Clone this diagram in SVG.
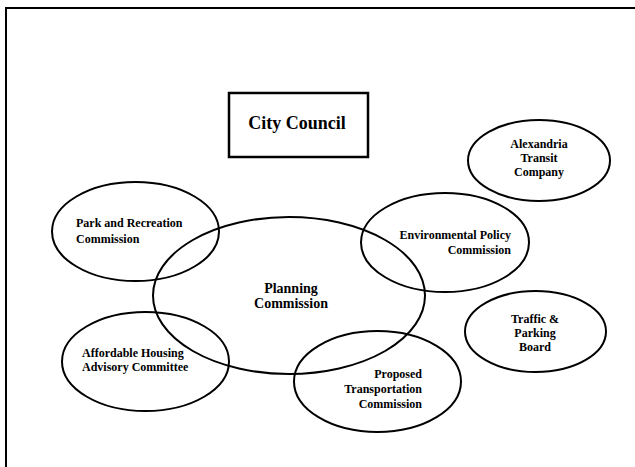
<svg xmlns="http://www.w3.org/2000/svg" width="635" height="467" viewBox="0 0 635 467">
<style>
.bg{fill:#fff}
.frame{fill:none;stroke:#000;stroke-width:2}
.node{fill:none;stroke:#000;stroke-width:2}
.box{fill:none;stroke:#000;stroke-width:2.5}
text{font-family:"Liberation Serif","Times New Roman",serif;font-weight:bold;fill:#000}
.s{font-size:12px}
.m{font-size:14px}
.l{font-size:18px}
</style>
<rect class="bg" x="0" y="0" width="635" height="467"/>
<g id="frame">
<path class="frame" d="M6,467 V8 H635"/>
</g>
<g id="connectors"></g>
<g id="city-council">
<rect class="box" x="229" y="93" width="139" height="64"/>
<text class="l" x="297" y="129" text-anchor="middle">City Council</text>
</g>
<g id="planning-commission">
<ellipse class="node" cx="289" cy="295.5" rx="136" ry="78.5"/>
<text class="m" x="291" y="293" text-anchor="middle">Planning</text>
<text class="m" x="291" y="308" text-anchor="middle">Commission</text>
</g>
<g id="park-recreation">
<ellipse class="node" cx="135.5" cy="231.5" rx="83.5" ry="49.5"/>
<text class="s" x="76" y="227">Park and Recreation</text>
<text class="s" x="76" y="243">Commission</text>
</g>
<g id="environmental-policy">
<ellipse class="node" cx="445" cy="242.5" rx="84" ry="49.5"/>
<text class="s" x="511" y="239" text-anchor="end">Environmental Policy</text>
<text class="s" x="511" y="254" text-anchor="end">Commission</text>
</g>
<g id="alexandria-transit">
<ellipse class="node" cx="539" cy="160.5" rx="71" ry="40.5"/>
<text class="s" x="539" y="148" text-anchor="middle">Alexandria</text>
<text class="s" x="539" y="162" text-anchor="middle">Transit</text>
<text class="s" x="539" y="176" text-anchor="middle">Company</text>
</g>
<g id="traffic-parking">
<ellipse class="node" cx="535.5" cy="331.5" rx="70.5" ry="40.5"/>
<text class="s" x="535" y="323" text-anchor="middle">Traffic &amp;</text>
<text class="s" x="535" y="337" text-anchor="middle">Parking</text>
<text class="s" x="535" y="351" text-anchor="middle">Board</text>
</g>
<g id="affordable-housing">
<ellipse class="node" cx="145.5" cy="361.5" rx="83.5" ry="49.5"/>
<text class="s" x="82" y="357">Affordable Housing</text>
<text class="s" x="82" y="371">Advisory Committee</text>
</g>
<g id="proposed-transportation">
<ellipse class="node" cx="377.5" cy="381.5" rx="83.5" ry="50.5"/>
<text class="s" x="422" y="378" text-anchor="end">Proposed</text>
<text class="s" x="422" y="393" text-anchor="end">Transportation</text>
<text class="s" x="422" y="408" text-anchor="end">Commission</text>
</g>
</svg>
